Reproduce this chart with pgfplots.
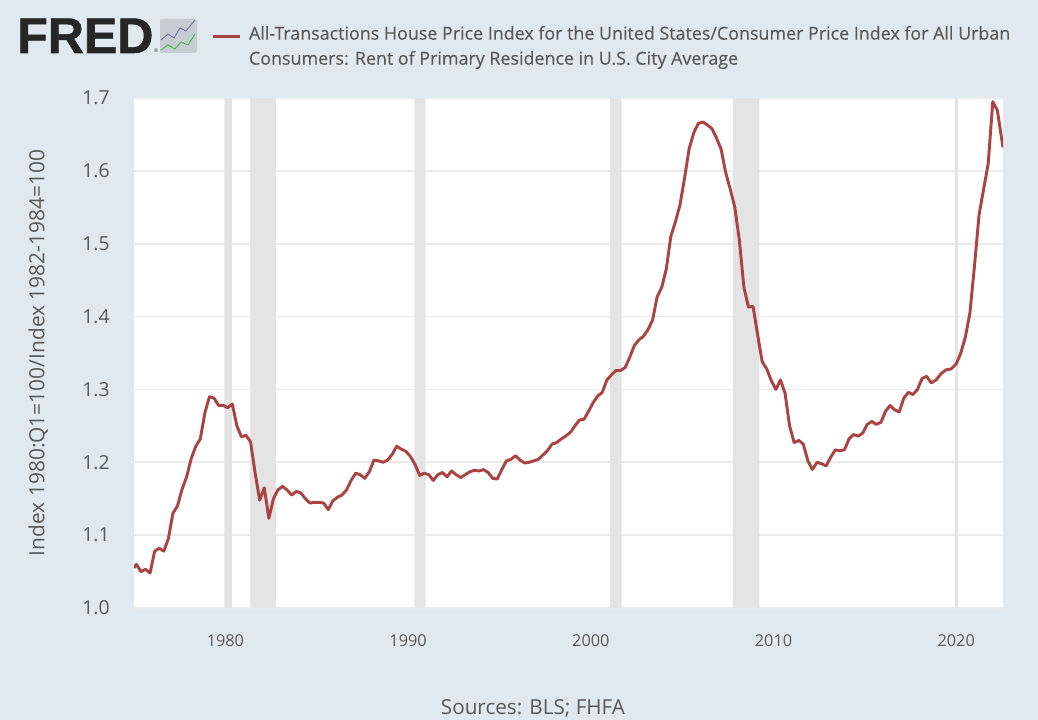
\documentclass[border=0pt]{standalone}
\usepackage{pgfplots}
\pgfplotsset{compat=1.18}
\usepackage{pgfplotstable}
\usepackage{fontspec}
\setmainfont{Open Sans}
\newfontfamily\logofont[FakeBold=1.2]{Liberation Sans Bold}
\newfontfamily\legendfont[FakeBold=0.25]{Open Sans}
\definecolor{bgc}{HTML}{E1E9F0}
\definecolor{txt}{HTML}{595959}
\definecolor{gridc}{HTML}{EBEBEB}
\definecolor{recc}{HTML}{E4E4E4}
\definecolor{linec}{HTML}{A94442}
\pgfplotstableread{
x y
1975.00 1.055
1975.13 1.060
1975.38 1.050
1975.63 1.053
1975.88 1.048
1976.13 1.078
1976.38 1.082
1976.63 1.078
1976.88 1.095
1977.13 1.130
1977.38 1.140
1977.63 1.163
1977.88 1.180
1978.13 1.205
1978.38 1.222
1978.63 1.232
1978.88 1.268
1979.13 1.290
1979.38 1.288
1979.63 1.278
1979.88 1.278
1980.13 1.275
1980.38 1.280
1980.63 1.250
1980.88 1.235
1981.13 1.237
1981.38 1.228
1981.63 1.185
1981.88 1.148
1982.13 1.165
1982.38 1.123
1982.63 1.150
1982.88 1.162
1983.13 1.167
1983.38 1.162
1983.63 1.155
1983.88 1.160
1984.13 1.158
1984.38 1.150
1984.63 1.144
1984.88 1.145
1985.13 1.145
1985.38 1.144
1985.63 1.135
1985.88 1.147
1986.13 1.152
1986.38 1.155
1986.63 1.162
1986.88 1.175
1987.13 1.185
1987.38 1.183
1987.63 1.178
1987.88 1.187
1988.13 1.203
1988.38 1.202
1988.63 1.200
1988.88 1.203
1989.13 1.211
1989.38 1.222
1989.63 1.218
1989.88 1.215
1990.13 1.208
1990.38 1.197
1990.63 1.182
1990.88 1.185
1991.13 1.183
1991.38 1.175
1991.63 1.183
1991.88 1.186
1992.13 1.180
1992.38 1.188
1992.63 1.183
1992.88 1.179
1993.13 1.183
1993.38 1.187
1993.63 1.189
1993.88 1.188
1994.13 1.190
1994.38 1.186
1994.63 1.178
1994.88 1.177
1995.13 1.190
1995.38 1.202
1995.63 1.204
1995.88 1.209
1996.13 1.203
1996.38 1.199
1996.63 1.200
1996.88 1.202
1997.13 1.204
1997.38 1.210
1997.63 1.216
1997.88 1.225
1998.13 1.227
1998.38 1.232
1998.63 1.236
1998.88 1.241
1999.13 1.250
1999.38 1.258
1999.63 1.259
1999.88 1.270
2000.13 1.282
2000.38 1.291
2000.63 1.296
2000.88 1.313
2001.13 1.320
2001.38 1.326
2001.63 1.326
2001.88 1.330
2002.13 1.344
2002.38 1.360
2002.63 1.368
2002.88 1.373
2003.13 1.382
2003.38 1.395
2003.63 1.427
2003.88 1.440
2004.13 1.465
2004.38 1.510
2004.63 1.530
2004.88 1.553
2005.13 1.590
2005.38 1.630
2005.63 1.652
2005.88 1.665
2006.13 1.667
2006.38 1.663
2006.63 1.658
2006.88 1.645
2007.13 1.630
2007.38 1.598
2007.63 1.575
2007.88 1.550
2008.13 1.505
2008.38 1.440
2008.63 1.413
2008.88 1.414
2009.13 1.375
2009.38 1.338
2009.63 1.328
2009.88 1.312
2010.13 1.300
2010.38 1.313
2010.63 1.295
2010.88 1.250
2011.13 1.227
2011.38 1.230
2011.63 1.225
2011.88 1.202
2012.13 1.190
2012.38 1.200
2012.63 1.198
2012.88 1.195
2013.13 1.207
2013.38 1.217
2013.63 1.216
2013.88 1.217
2014.13 1.232
2014.38 1.238
2014.63 1.236
2014.88 1.240
2015.13 1.252
2015.38 1.256
2015.63 1.252
2015.88 1.255
2016.13 1.270
2016.38 1.278
2016.63 1.272
2016.88 1.269
2017.13 1.288
2017.38 1.296
2017.63 1.293
2017.88 1.300
2018.13 1.315
2018.38 1.318
2018.63 1.309
2018.90 1.313
2019.18 1.322
2019.45 1.327
2019.72 1.328
2020.00 1.335
2020.25 1.350
2020.50 1.372
2020.75 1.405
2021.00 1.470
2021.25 1.540
2021.50 1.575
2021.75 1.610
2022.00 1.695
2022.25 1.683
2022.56 1.632
}\housedata
\begin{document}
\begin{tikzpicture}[x=0.75pt,y=0.75pt]
\useasboundingbox (0,0) rectangle (1038,720);
\fill[bgc] (0,0) rectangle (1038,720);
% logo
\node[anchor=base west,inner sep=0,text=black!85] at (17,667) {\logofont\fontsize{37.5}{37.5}\selectfont FRED};
\node[anchor=base west,inner sep=0,text=black!70] at (153.5,667) {\fontsize{4}{4}\selectfont ®};
\fill[rounded corners=1.5,black!12!bgc] (160,667) rectangle (197,701);
\draw[color=blue!25!gray!90,line width=0.7pt] (161,680) -- (168,686) -- (174,682) -- (180,692) -- (186,689) -- (195,700);
\draw[color=green!45!gray,line width=0.7pt] (161,670) -- (168,675) -- (175,671) -- (181,678) -- (188,675) -- (195,686);
\begin{axis}[
  at={(100.5pt,84pt)},anchor=south west,
  scale only axis,width=651.75pt,height=382.5pt,
  xmin=1975,xmax=2022.56,ymin=1.0,ymax=1.7,
  axis background/.style={fill=white},
  axis line style={draw=none},
  major tick length=0pt,
  xtick={1980,1990,2000,2010,2020},
  ytick={1.0,1.1,1.2,1.3,1.4,1.5,1.6,1.7},
  ymajorgrids,grid style={gridc,line width=1.2pt},
  /pgf/number format/assume math mode=true,
  x tick label style={/pgf/number format/1000 sep={},text=txt,font=\fontsize{12.2}{14}\selectfont,yshift=-16.5pt},
  y tick label style={/pgf/number format/fixed,/pgf/number format/fixed zerofill,/pgf/number format/precision=1,text=txt,font=\fontsize{14.5}{16}\selectfont,xshift=-14.75pt},
  ylabel={Index 1980:Q1=100/Index 1982-1984=100},
  ylabel style={text=txt,font=\fontsize{15.7}{18}\selectfont,at={(axis description cs:0,0.5)},anchor=south,yshift=61pt},
  clip=true,
  legend style={draw=none,fill=none,at={(58.25pt,438.5pt)},anchor=north west,inner sep=0pt,outer sep=0pt,
    font=\legendfont\fontsize{13.4}{18.75}\selectfont,text=txt,cells={align=left,anchor=west},
    /tikz/every odd column/.append style={column sep=4pt}},
  legend image code/.code={\draw[linec,line width=2pt] (0pt,7.5pt) -- (20pt,7.5pt);},
]
\addplot[forget plot,fill=recc,draw=none] coordinates {(1979.94,1)(1979.94,1.7)(1980.35,1.7)(1980.35,1)} \closedcycle;
\addplot[forget plot,fill=recc,draw=none] coordinates {(1981.35,1)(1981.35,1.7)(1982.76,1.7)(1982.76,1)} \closedcycle;
\addplot[forget plot,fill=recc,draw=none] coordinates {(1990.34,1)(1990.34,1.7)(1990.96,1.7)(1990.96,1)} \closedcycle;
\addplot[forget plot,fill=recc,draw=none] coordinates {(2001.05,1)(2001.05,1.7)(2001.69,1.7)(2001.69,1)} \closedcycle;
\addplot[forget plot,fill=recc,draw=none] coordinates {(2007.77,1)(2007.77,1.7)(2009.23,1.7)(2009.23,1)} \closedcycle;
\addplot[forget plot,fill=recc,draw=none] coordinates {(2019.94,1)(2019.94,1.7)(2020.1,1.7)(2020.1,1)} \closedcycle;
\addplot[linec,line width=2.2pt,line join=round] table[x=x,y=y] {\housedata};
\addlegendentry{All-Transactions House Price Index for the United States/Consumer Price Index for All Urban\\Consumers: Rent of Primary Residence in U.S. City Average}
\end{axis}
\node[text=txt,anchor=center,font=\fontsize{15.5}{18}\selectfont] at (533,12) {Sources: BLS; FHFA};
\end{tikzpicture}
\end{document}
